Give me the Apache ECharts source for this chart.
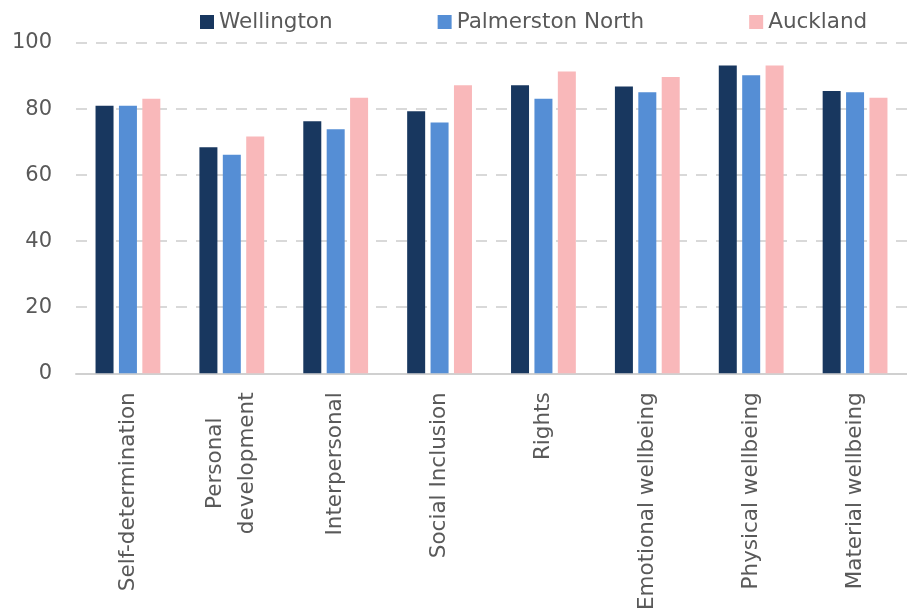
<!DOCTYPE html>
<html>
<head>
<meta charset="utf-8">
<title>Quality of life domains by region</title>
<script src="https://cdn.jsdelivr.net/npm/echarts@6/dist/echarts.min.js"></script>
<style>
  html, body { margin: 0; padding: 0; background: #ffffff; }
  #chart { width: 907px; height: 613px; }
</style>
</head>
<body>
<div id="chart"></div>
<script>
// Domain categories along the x axis
const categories = [
  'Self-determination',
  'Personal\ndevelopment',
  'Interpersonal',
  'Social Inclusion',
  'Rights',
  'Emotional wellbeing',
  'Physical wellbeing',
  'Material wellbeing'
];

// Scores per region
const wellington = [81.0, 68.4, 76.3, 79.3, 87.2, 86.8, 93.2, 85.5];
const palmerstonNorth = [81.0, 66.2, 73.9, 75.9, 83.1, 85.1, 90.2, 85.1];
const auckland = [83.1, 71.7, 83.4, 87.2, 91.4, 89.7, 93.2, 83.4];

// Y axis ticks
const yTicks = [0, 20, 40, 60, 80, 100];

const FONT = 'DejaVu Sans';
const TEXT = '#595959';

const chart = echarts.init(document.getElementById('chart'), null, { renderer: 'canvas' });

function barSeries(name, data, color) {
  return {
    name: name,
    type: 'bar',
    data: data,
    barWidth: 18,
    barGap: '30%',
    itemStyle: { color: color },
    emphasis: { disabled: true }
  };
}

chart.setOption({
  animation: false,
  backgroundColor: '#ffffff',
  textStyle: { fontFamily: FONT },
  legend: {
    left: 195,
    top: 6,
    itemWidth: 14,
    itemHeight: 14,
    itemGap: 105,
    icon: 'rect',
    textStyle: { fontFamily: FONT, fontSize: 21.5, color: TEXT },
    data: ['Wellington', 'Palmerston North', 'Auckland']
  },
  grid: {
    left: 76,
    top: 43,
    width: 840,
    height: 334,
    containLabel: false
  },
  xAxis: {
    type: 'category',
    data: categories,
    axisTick: { show: false },
    axisLine: { lineStyle: { color: '#d0d0d0', width: 2 } },
    axisLabel: {
      interval: 0,
      rotate: 90,
      margin: 19,
      fontFamily: FONT,
      fontSize: 21.5,
      color: TEXT,
      lineHeight: 32,
      formatter: function (value) {
        if (value.indexOf('\n') >= 0) {
          return value.split('\n').map(function (s) { return '{c|' + s + '}'; }).join('\n');
        }
        return value;
      },
      rich: {
        c: {
          width: 142,
          align: 'center',
          fontFamily: FONT,
          fontSize: 21.5,
          color: TEXT,
          lineHeight: 32
        }
      }
    }
  },
  yAxis: {
    type: 'value',
    min: yTicks[0],
    max: yTicks[yTicks.length - 1],
    interval: yTicks[1] - yTicks[0],
    axisLine: { show: false },
    axisTick: { show: false },
    axisLabel: {
      margin: 24,
      fontFamily: FONT,
      fontSize: 21,
      color: TEXT
    },
    splitLine: {
      lineStyle: { color: '#d9d9d9', width: 2, type: [11, 9] }
    }
  },
  series: [
    barSeries('Wellington', wellington, '#18375f'),
    barSeries('Palmerston North', palmerstonNorth, '#558ed5'),
    barSeries('Auckland', auckland, '#f9b8ba')
  ]
});
</script>
</body>
</html>
